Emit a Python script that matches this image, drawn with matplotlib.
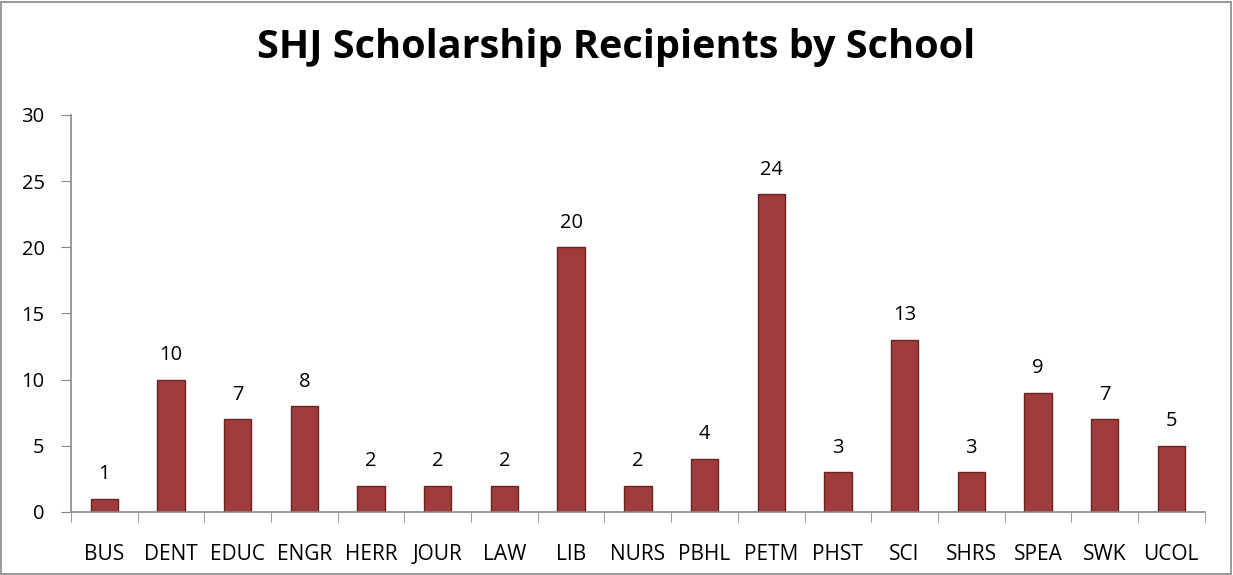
import matplotlib.pyplot as plt
import numpy as np

schools = ["BUS", "DENT", "EDUC", "ENGR", "HERR", "JOUR", "LAW", "LIB", "NURS",
           "PBHL", "PETM", "PHST", "SCI", "SHRS", "SPEA", "SWK", "UCOL"]
recipients = [1, 10, 7, 8, 2, 2, 2, 20, 2, 4, 24, 3, 13, 3, 9, 7, 5]
yticks = [0, 5, 10, 15, 20, 25, 30]

plt.rcParams['font.family'] = ['Open Sans', 'DejaVu Sans']

fig = plt.figure(figsize=(12.33, 5.75), dpi=100)
ax = fig.add_axes([0.0576, 0.1096, 0.9194, 0.6904])

x = np.arange(len(schools))
bars = ax.bar(x, recipients, width=0.41, color="#9E3B3B", edgecolor="#6A2222", linewidth=1.0)
for xi, v in zip(x, recipients):
    ax.text(xi, v + 1.1, str(v), ha="center", va="bottom", fontsize=14.5)

ax.set_xlim(-0.5, len(schools) - 0.5)
ax.set_ylim(0, 30)
ax.set_yticks(yticks)
ax.set_xticks(x)
ax.set_xticklabels(schools)
ax.set_xticks(np.arange(-0.5, len(schools)), minor=True)
ax.tick_params(axis="x", which="major", length=0, pad=23, labelsize=15)
ax.tick_params(axis="x", which="minor", length=7, color="#888888", direction="out")
ax.tick_params(axis="y", length=7, color="#888888", labelsize=14.5, pad=12)

for s in ["top", "right"]:
    ax.spines[s].set_visible(False)
for s in ["left", "bottom"]:
    ax.spines[s].set_color("#888888")
    ax.spines[s].set_linewidth(1.2)

fig.text(0.5, 0.918, "SHJ Scholarship Recipients by School", ha="center", va="center",
         fontsize=28.5, fontweight="bold")

fig.patches.append(plt.Rectangle((0.001, 0.002), 0.997, 0.995, transform=fig.transFigure,
                                 fill=False, edgecolor="#888888", linewidth=1.2))

fig.savefig("out.png", dpi=100)
